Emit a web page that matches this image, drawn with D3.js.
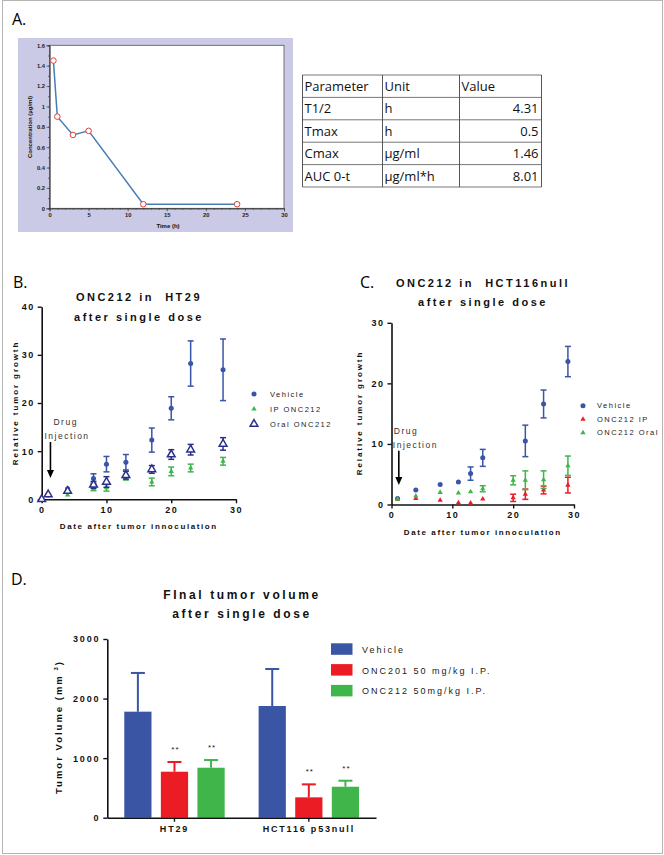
<!DOCTYPE html>
<html>
<head>
<meta charset="utf-8">
<script src="https://cdn.jsdelivr.net/npm/d3@7"></script>
<style>
  body { margin: 0; background: #fff; }
  svg text { font-family: "Liberation Sans", Arial, sans-serif; white-space: pre; }
</style>
</head>
<body>
<svg id="fig" width="664" height="855"></svg>
<script>
// ---- data ----
var pkTime = [0.5, 1, 3, 5, 12, 24];
var pkConc = [1.45, 0.9, 0.72, 0.76, 0.04, 0.04];

var tableHead = ['Parameter', 'Unit', 'Value'];
var tableParams = ['T1/2', 'Tmax', 'Cmax', 'AUC 0-t'];
var tableUnits = ['h', 'h', 'µg/ml', 'µg/ml*h'];
var tableValues = ['4.31', '0.5', '1.46', '8.01'];

var htDays = [0, 1, 4, 8, 10, 13, 17, 20, 23, 28];
var htVehicle = [0, 0.9, 2.2, 4.3, 7.3, 7.7, 12.3, 18.9, 28.2, 26.9];
var htVehicleErr = [0, 0.2, 0.3, 1.0, 1.6, 1.6, 2.5, 2.4, 4.7, 6.4];
var htIP = [0, 0.8, 0.9, 2.2, 2.4, 4.5, 3.6, 5.8, 6.5, 7.9];
var htIPErr = [0, 0.1, 0.2, 0.4, 0.7, 0.5, 0.8, 0.9, 0.8, 0.8];
var htOral = [0, 1.0, 1.7, 3.0, 3.6, 5.0, 6.2, 9.3, 10.3, 11.5];
var htOralErr = [0, 0.2, 0.3, 0.7, 1.1, 0.8, 0.8, 1.0, 1.1, 1.3];

var hctDays = [1, 4, 8, 11, 13, 15, 20, 22, 25, 29];
var hctVehicle = [1.0, 2.4, 3.3, 3.7, 5.1, 7.7, null, 10.5, 16.6, 23.6];
var hctVehicleErr = [0.1, 0.2, 0.2, 0.2, 1.1, 1.4, null, 2.6, 2.3, 2.5];
var hctIP = [0.9, 1.0, 0.7, 0.3, 0.25, 0.9, 1.1, 1.7, 2.4, 3.2];
var hctIPErr = [0.1, 0.2, 0.1, 0.1, 0.1, 0.1, 0.6, 0.85, 0.65, 1.3];
var hctOral = [0.9, 1.4, 2.0, 1.9, 2.1, 2.6, 4.0, 4.0, 4.1, 6.4];
var hctOralErr = [0.1, 0.1, 0.1, 0.1, 0.1, 0.5, 0.75, 1.55, 1.45, 1.6];

var volGroups = ['HT29', 'HCT116 p53null'];
var volTreatments = ['Vehicle', 'ONC201 50 mg/kg I.P.', 'ONC212 50mg/kg I.P.'];
var ht29Vol = [1780, 772, 839];
var ht29Sem = [650, 163, 129];
var hctVol = [1875, 342, 520];
var hctSem = [621, 218, 101];
var volSig = ['', '**', '**'];

var blue = '#3a55a4';
var navy = '#2b2f8c';
var green = '#3fb54a';
var red = '#ec1c24';

var svg = d3.select('#fig');

// outer frame
svg.append('rect')
  .attr('x', 2.5).attr('y', 0.5).attr('width', 660).attr('height', 853)
  .attr('fill', 'none').attr('stroke', '#b4b4b4');

function panelLabel(text, x, y) {
  svg.append('text').attr('x', x).attr('y', y)
    .style('font-family', '"Open Sans", sans-serif')
    .style('font-size', '16px').text(text);
}

function spacedText(g, text, x, y, opts) {
  return g.append('text')
    .attr('x', x).attr('y', y)
    .attr('text-anchor', opts.anchor || 'middle')
    .style('font-size', opts.size + 'px')
    .style('font-weight', opts.bold ? 'bold' : 'normal')
    .style('letter-spacing', (opts.spacing || 0) + 'px')
    .attr('fill', opts.fill || '#111')
    .text(text);
}

// ---- A: PK curve ----
panelLabel('A.', 12, 25);

svg.append('rect').attr('x', 18).attr('y', 38).attr('width', 275).attr('height', 194)
  .attr('fill', '#cacae6');

var pkX = d3.scaleLinear().domain([0, 30]).range([49.5, 284]);
var pkY = d3.scaleLinear().domain([0, 1.6]).range([208.3, 45.3]);

svg.append('rect')
  .attr('x', pkX(0)).attr('y', pkY(1.6))
  .attr('width', pkX(30) - pkX(0)).attr('height', pkY(0) - pkY(1.6))
  .attr('fill', '#fff').attr('stroke', '#555').attr('stroke-width', 0.8);

var pkG = svg.append('g');
pkG.append('g').attr('transform', 'translate(0,' + pkY(0) + ')')
  .call(d3.axisBottom(pkX).tickValues(d3.range(0, 31, 1)).tickSize(1.5).tickFormat(''));
pkG.append('g').attr('transform', 'translate(0,' + pkY(0) + ')')
  .call(d3.axisBottom(pkX).tickValues(d3.range(0, 31, 5)).tickSize(3).tickPadding(1.5));
pkG.append('g').attr('transform', 'translate(' + pkX(0) + ',0)')
  .call(d3.axisLeft(pkY).tickValues(d3.range(0, 1.61, 0.1)).tickSize(1.5).tickFormat(''));
pkG.append('g').attr('transform', 'translate(' + pkX(0) + ',0)')
  .call(d3.axisLeft(pkY).tickValues(d3.range(0, 1.61, 0.2)).tickSize(3).tickPadding(1.5)
    .tickFormat(d3.format('~g')));
pkG.selectAll('.domain').attr('stroke', '#444').attr('stroke-width', 0.8);
pkG.selectAll('.tick line').attr('stroke', '#444').attr('stroke-width', 0.7);
pkG.selectAll('.tick text')
  .style('font-size', '5.8px').style('font-weight', 'bold').attr('fill', '#222');

spacedText(svg, 'Time (h)', 168, 228, { size: 6, bold: true });
spacedText(svg, 'Concentration (µg/ml)', 0, 0, { size: 6, bold: true })
  .attr('transform', 'translate(32,127) rotate(-90)');

svg.append('path')
  .datum(pkTime.map(function (t, i) { return [t, pkConc[i]]; }))
  .attr('fill', 'none').attr('stroke', '#4a7db8').attr('stroke-width', 1.5)
  .attr('d', d3.line().x(function (d) { return pkX(d[0]); }).y(function (d) { return pkY(d[1]); }));

svg.selectAll('.pk-pt')
  .data(pkTime.map(function (t, i) { return [t, pkConc[i]]; }))
  .enter().append('circle')
  .attr('cx', function (d) { return pkX(d[0]); })
  .attr('cy', function (d) { return pkY(d[1]); })
  .attr('r', 2.8)
  .attr('fill', '#fff').attr('stroke', '#e2403c').attr('stroke-width', 1);

// ---- A: PK table ----
var colEdges = [302.5, 382.5, 459.5, 541.5];
var rowTop = 75;
var rowH = 22.4;
var tableRows = [tableHead].concat(tableParams.map(function (p, i) {
  return [p, tableUnits[i], tableValues[i]];
}));
var tableG = svg.append('g');
tableRows.forEach(function (row, r) {
  row.forEach(function (cell, c) {
    var right = (c === 2 && r > 0);
    tableG.append('text')
      .attr('x', right ? colEdges[3] - 3 : colEdges[c] + 2)
      .attr('y', rowTop + r * rowH + 16)
      .attr('text-anchor', right ? 'end' : 'start')
      .style('font-family', '"Open Sans", sans-serif')
      .style('font-size', '13px')
      .attr('fill', '#111')
      .text(cell);
  });
});
d3.range(tableRows.length + 1).forEach(function (r) {
  tableG.append('line')
    .attr('x1', colEdges[0]).attr('x2', colEdges[3])
    .attr('y1', rowTop + r * rowH).attr('y2', rowTop + r * rowH)
    .attr('stroke', '#777').attr('stroke-width', 1);
});
colEdges.forEach(function (x) {
  tableG.append('line')
    .attr('x1', x).attr('x2', x)
    .attr('y1', rowTop).attr('y2', rowTop + tableRows.length * rowH)
    .attr('stroke', '#555').attr('stroke-width', 1);
});

// ---- B & C: tumor growth scatter ----
function growthPanel(cfg) {
  var g = svg.append('g');
  var x = d3.scaleLinear().domain([0, 30]).range(cfg.xRange);
  var y = d3.scaleLinear().domain([0, cfg.yMax]).range(cfg.yRange);

  var axes = g.append('g');
  axes.append('g').attr('transform', 'translate(0,' + cfg.yRange[0] + ')')
    .call(d3.axisBottom(x).tickValues([0, 10, 20, 30]).tickSize(4).tickSizeOuter(0).tickPadding(3));
  axes.append('g').attr('transform', 'translate(' + cfg.xRange[0] + ',0)')
    .call(d3.axisLeft(y).tickValues(d3.range(0, cfg.yMax + 1, 10)).tickSize(4).tickSizeOuter(0).tickPadding(3));
  axes.selectAll('.domain').attr('stroke', '#111').attr('stroke-width', 1.6);
  axes.selectAll('.tick line').attr('stroke', '#111').attr('stroke-width', 1.4);
  axes.selectAll('.tick text')
    .style('font-size', '9px').style('font-weight', 'bold')
    .style('letter-spacing', '1.5px').attr('fill', '#111');

  cfg.series.forEach(function (s) {
    var pts = cfg.days.map(function (d, i) {
      return { day: d, v: s.values[i], e: s.errs[i] };
    }).filter(function (p) { return p.v !== null; });

    var eb = g.append('g').attr('stroke', s.color).attr('stroke-width', 1.5);
    pts.filter(function (p) { return p.e > 0.3; }).forEach(function (p) {
      var cx = x(p.day);
      eb.append('line').attr('x1', cx).attr('x2', cx)
        .attr('y1', y(p.v - p.e)).attr('y2', y(p.v + p.e));
      [p.v - p.e, p.v + p.e].forEach(function (v) {
        eb.append('line').attr('x1', cx - 3).attr('x2', cx + 3)
          .attr('y1', y(v)).attr('y2', y(v));
      });
    });

    g.selectAll(null).data(pts).enter().append('path')
      .attr('transform', function (p) { return 'translate(' + x(p.day) + ',' + y(p.v) + ')'; })
      .attr('d', d3.symbol(s.shape, s.size))
      .attr('fill', s.open ? '#fff' : s.color)
      .attr('stroke', s.open ? s.color : 'none')
      .attr('stroke-width', 1.5);
  });

  // legend
  cfg.series.forEach(function (s, i) {
    var ly = cfg.legend[1] + i * cfg.legend[3];
    g.append('path')
      .attr('transform', 'translate(' + cfg.legend[0] + ',' + ly + ')')
      .attr('d', d3.symbol(s.shape, s.size))
      .attr('fill', s.open ? '#fff' : s.color)
      .attr('stroke', s.open ? s.color : 'none')
      .attr('stroke-width', 1.5);
    spacedText(g, s.name, cfg.legend[2], ly + 2.5, { size: 7.5, spacing: 1.5, anchor: 'start', fill: '#222' });
  });

  // drug injection arrow
  var ax = x(cfg.injectDay);
  spacedText(g, 'Drug', ax + cfg.drugDx, cfg.arrowTop - 17, { size: 8.5, spacing: 1.5, anchor: 'start', fill: '#333' });
  spacedText(g, 'Injection', ax - 6, cfg.arrowTop - 3, { size: 8.5, spacing: 1.5, anchor: 'start', fill: '#333' });
  g.append('line').attr('x1', ax).attr('x2', ax)
    .attr('y1', cfg.arrowTop).attr('y2', cfg.arrowBottom - 6)
    .attr('stroke', '#000').attr('stroke-width', 1.6);
  g.append('path')
    .attr('d', 'M' + (ax - 3.5) + ',' + (cfg.arrowBottom - 8) + 'L' + (ax + 3.5) + ',' + (cfg.arrowBottom - 8) +
      'L' + ax + ',' + cfg.arrowBottom + 'Z')
    .attr('fill', '#000');

  // titles
  cfg.title.forEach(function (t, i) {
    spacedText(g, t, cfg.titlePos[0], cfg.titlePos[1] + i * cfg.titlePos[2], { size: 11, bold: true, spacing: 2.5 });
  });
  var xMid = (cfg.xRange[0] + cfg.xRange[1]) / 2;
  spacedText(g, 'Date after tumor innoculation', xMid, cfg.yRange[0] + 30, { size: 8, bold: true, spacing: 1.6 });
  spacedText(g, 'Relative tumor growth', 0, 0, { size: 8, bold: true, spacing: 1.9 })
    .attr('transform', 'translate(' + cfg.yLabel[0] + ',' + cfg.yLabel[1] + ') rotate(-90)');
}

panelLabel('B.', 13, 288);
growthPanel({
  xRange: [41.7, 236], yRange: [499.3, 306.7], yMax: 40,
  days: htDays,
  series: [
    { name: 'Vehicle', values: htVehicle, errs: htVehicleErr, color: blue, shape: d3.symbolCircle, size: 20 },
    { name: 'IP ONC212', values: htIP, errs: htIPErr, color: green, shape: d3.symbolTriangle, size: 12 },
    { name: 'Oral ONC212', values: htOral, errs: htOralErr, color: navy, shape: d3.symbolTriangle, size: 26, open: true }
  ],
  legend: [254, 394, 270, 15],
  injectDay: 1.35, arrowTop: 442, arrowBottom: 478, drugDx: 3,
  title: ['ONC212 in  HT29', 'after single dose'], titlePos: [139, 301, 20],
  yLabel: [18, 403]
});

panelLabel('C.', 360, 288);
growthPanel({
  xRange: [391.5, 574], yRange: [504.5, 322.8], yMax: 30,
  days: hctDays,
  series: [
    { name: 'Vehicle', values: hctVehicle, errs: hctVehicleErr, color: blue, shape: d3.symbolCircle, size: 20 },
    { name: 'ONC212 IP', values: hctIP, errs: hctIPErr, color: red, shape: d3.symbolTriangle, size: 12 },
    { name: 'ONC212 Oral', values: hctOral, errs: hctOralErr, color: green, shape: d3.symbolTriangle, size: 12 }
  ],
  legend: [583, 405.7, 597, 13.5],
  injectDay: 1.2, arrowTop: 450.7, arrowBottom: 485, drugDx: -5,
  title: ['ONC212 in  HCT116null', 'after single dose'], titlePos: [483, 287, 18.5],
  yLabel: [362, 413]
});

// ---- D: final tumor volume ----
panelLabel('D.', 11, 585);
var dG = svg.append('g');
var gx = d3.scaleBand().domain(volGroups).range([107.3, 376]).padding(0);
var tx = d3.scaleBand().domain(volTreatments).range([-50.2, 50.2]).paddingInner(0.256);
var vy = d3.scaleLinear().domain([0, 3000]).range([817.7, 639]);
var volColors = [blue, red, green];
var volData = [ht29Vol, hctVol];
var volErr = [ht29Sem, hctSem];

volGroups.forEach(function (grp, gi) {
  volTreatments.forEach(function (t, ti) {
    var x0 = gx(grp) + gx.bandwidth() / 2 + tx(t);
    var v = volData[gi][ti];
    var e = volErr[gi][ti];
    var cx = x0 + tx.bandwidth() / 2;
    dG.append('line').attr('x1', cx).attr('x2', cx)
      .attr('y1', vy(v)).attr('y2', vy(v + e))
      .attr('stroke', volColors[ti]).attr('stroke-width', 2);
    dG.append('line').attr('x1', cx - 7).attr('x2', cx + 7)
      .attr('y1', vy(v + e)).attr('y2', vy(v + e))
      .attr('stroke', volColors[ti]).attr('stroke-width', 2);
    dG.append('rect')
      .attr('x', x0).attr('y', vy(v))
      .attr('width', tx.bandwidth()).attr('height', vy(0) - vy(v))
      .attr('fill', volColors[ti]);
    if (volSig[ti]) {
      spacedText(dG, volSig[ti], cx + 1, vy(v + e) - 10, { size: 8, spacing: 1, fill: '#222' });
    }
  });
});

var dAxes = dG.append('g');
dAxes.append('g').attr('transform', 'translate(0,' + vy(0) + ')')
  .call(d3.axisBottom(gx).tickSize(4).tickSizeOuter(0).tickPadding(4));
dAxes.append('g').attr('transform', 'translate(' + gx.range()[0] + ',0)')
  .call(d3.axisLeft(vy).tickValues([0, 1000, 2000, 3000]).tickSize(4).tickSizeOuter(0).tickPadding(3)
    .tickFormat(d3.format('d')));
dAxes.selectAll('.domain').attr('stroke', '#111').attr('stroke-width', 1.6);
dAxes.selectAll('.tick line').attr('stroke', '#111').attr('stroke-width', 1.4);
dAxes.selectAll('.tick text')
  .style('font-size', '9px').style('font-weight', 'bold')
  .style('letter-spacing', '1.8px').attr('fill', '#111');

spacedText(dG, 'FInal tumor volume', 242, 598.5, { size: 12, bold: true, spacing: 2.6 });
spacedText(dG, 'after single dose', 242, 617.5, { size: 12, bold: true, spacing: 2.6 });

var yl = spacedText(dG, 'Tumor Volume (mm', 0, 0, { size: 9.5, bold: true, spacing: 2 })
  .attr('transform', 'translate(62,727) rotate(-90)');
yl.append('tspan').attr('dy', -4).style('font-size', '6px').text(' 3');
yl.append('tspan').attr('dy', 4).text(')');

volTreatments.forEach(function (t, i) {
  var ly = 643.3 + i * 20.8;
  dG.append('rect').attr('x', 331).attr('y', ly).attr('width', 21.5).attr('height', 11.5)
    .attr('fill', volColors[i]);
  spacedText(dG, t, 362, ly + 9.5, { size: 9, spacing: 2, anchor: 'start', fill: '#222' });
});
</script>
</body>
</html>
